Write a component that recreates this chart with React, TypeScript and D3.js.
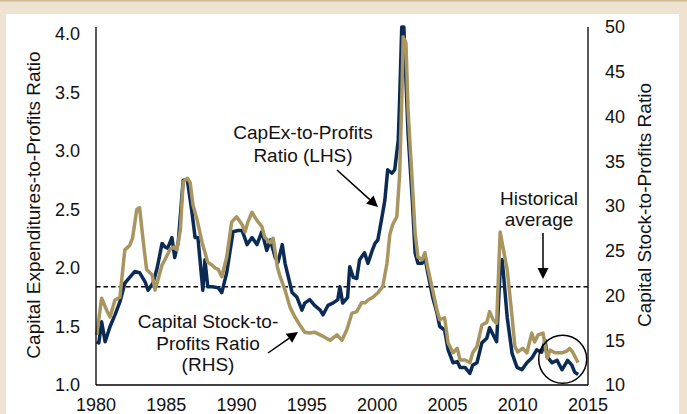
import * as d3 from "d3";
import { useEffect, useRef } from "react";

// CapEx-to-Profits ratio (LHS), [year, ratio]
const capexData: [number, number][] = [
  [1980.05, 1.37], [1980.2, 1.36], [1980.4, 1.54], [1980.65, 1.37], [1981.0, 1.5],
  [1981.35, 1.6], [1981.7, 1.71], [1982.05, 1.87], [1982.4, 1.92], [1982.75, 1.97],
  [1983.1, 1.96], [1983.5, 1.88], [1983.7, 1.81], [1984.05, 1.87], [1984.35, 2.0],
  [1984.7, 2.21], [1984.9, 2.18], [1985.1, 2.17], [1985.4, 2.26], [1985.6, 2.09],
  [1985.85, 2.22], [1986.2, 2.75], [1986.5, 2.75], [1986.8, 2.5], [1987.05, 2.26],
  [1987.25, 2.26], [1987.6, 1.81], [1987.75, 2.07], [1987.95, 1.84], [1988.3, 1.84],
  [1988.7, 1.83], [1988.95, 1.79], [1989.3, 1.96], [1989.75, 2.31], [1990.1, 2.32],
  [1990.4, 2.32], [1990.75, 2.2], [1991.1, 2.26], [1991.45, 2.2], [1991.8, 2.31],
  [1992.15, 2.15], [1992.4, 2.24], [1992.75, 2.09], [1992.95, 2.05], [1993.25, 2.2],
  [1993.45, 2.04], [1993.65, 1.94], [1993.95, 1.79], [1994.3, 1.75], [1994.65, 1.64],
  [1994.85, 1.7], [1995.2, 1.73], [1995.55, 1.68], [1995.95, 1.64], [1996.15, 1.6],
  [1996.5, 1.68], [1996.85, 1.7], [1997.2, 1.73], [1997.35, 1.84], [1997.55, 1.7],
  [1997.9, 1.75], [1998.05, 2.01], [1998.3, 1.92], [1998.55, 1.91], [1998.75, 2.07],
  [1999.1, 2.13], [1999.35, 2.04], [1999.65, 2.15], [1999.85, 2.21], [2000.05, 2.24],
  [2000.35, 2.44], [2000.55, 2.58], [2000.75, 2.84], [2001.05, 2.81], [2001.25, 2.84],
  [2001.5, 3.09], [2001.6, 3.44], [2001.75, 4.06], [2001.9, 4.06], [2002.2, 3.15],
  [2002.5, 2.58], [2002.7, 2.13], [2002.9, 2.04], [2003.2, 2.04], [2003.4, 2.09],
  [2003.6, 1.96], [2003.95, 1.75], [2004.25, 1.62], [2004.45, 1.5], [2004.8, 1.47],
  [2005.05, 1.3], [2005.4, 1.19], [2005.7, 1.2], [2005.9, 1.15], [2006.25, 1.15],
  [2006.6, 1.1], [2006.8, 1.17], [2007.1, 1.19], [2007.45, 1.36], [2007.8, 1.4],
  [2008.0, 1.49], [2008.25, 1.43], [2008.5, 1.37], [2008.75, 1.98], [2008.9, 2.07],
  [2009.25, 1.58], [2009.6, 1.27], [2009.95, 1.15], [2010.3, 1.13], [2010.65, 1.19],
  [2011.0, 1.23], [2011.35, 1.3], [2011.7, 1.28], [2011.95, 1.38], [2012.1, 1.24],
  [2012.45, 1.19], [2012.8, 1.21], [2013.15, 1.13], [2013.55, 1.21], [2013.85, 1.17],
  [2014.05, 1.11], [2014.3, 1.09],
];

// Capital Stock-to-Profits ratio (RHS), [year, ratio]
const stockData: [number, number][] = [
  [1980.05, 15.6], [1980.4, 19.7], [1980.8, 18.2], [1981.0, 17.6], [1981.35, 19.5],
  [1981.7, 19.8], [1982.05, 25.1], [1982.4, 25.6], [1982.6, 26.4], [1982.9, 29.6],
  [1983.1, 29.8], [1983.35, 26.2], [1983.6, 22.9], [1984.0, 22.3], [1984.2, 20.6],
  [1984.4, 21.7], [1984.7, 23.4], [1984.9, 24.0], [1985.25, 25.1], [1985.5, 25.4],
  [1985.75, 25.1], [1986.0, 27.3], [1986.2, 32.7], [1986.5, 33.1], [1986.7, 32.6],
  [1986.9, 30.1], [1987.2, 28.4], [1987.55, 25.9], [1987.75, 24.8], [1987.95, 23.7],
  [1988.25, 23.4], [1988.45, 23.1], [1988.7, 22.9], [1988.95, 22.1], [1989.3, 24.3],
  [1989.65, 28.2], [1990.0, 28.8], [1990.4, 27.9], [1990.6, 27.1], [1990.8, 28.2],
  [1991.1, 29.3], [1991.45, 28.4], [1991.8, 27.7], [1992.0, 26.5], [1992.4, 25.9],
  [1992.6, 26.4], [1992.9, 23.2], [1993.1, 22.1], [1993.45, 20.6], [1993.8, 18.7],
  [1994.15, 17.6], [1994.5, 16.7], [1994.85, 15.9], [1995.2, 15.8], [1995.55, 15.9],
  [1995.95, 15.6], [1996.3, 15.3], [1996.65, 15.0], [1997.15, 15.6], [1997.5, 15.0],
  [1997.85, 16.2], [1998.2, 18.0], [1998.55, 18.2], [1998.9, 19.2], [1999.15, 19.2],
  [1999.35, 19.5], [1999.7, 19.8], [2000.05, 20.3], [2000.4, 21.0], [2000.7, 23.6],
  [2000.9, 26.8], [2001.1, 27.9], [2001.4, 28.8], [2001.6, 33.5], [2001.75, 41.8],
  [2001.85, 48.9], [2002.05, 48.2], [2002.2, 40.7], [2002.5, 32.6], [2002.7, 27.0],
  [2002.9, 24.3], [2003.2, 24.0], [2003.4, 24.8], [2003.6, 23.1], [2003.95, 20.6],
  [2004.25, 18.4], [2004.45, 17.3], [2004.8, 17.5], [2005.05, 14.7], [2005.4, 13.6],
  [2005.7, 14.1], [2005.9, 12.8], [2006.25, 12.8], [2006.6, 12.5], [2006.8, 13.6],
  [2007.1, 14.3], [2007.45, 16.7], [2007.8, 17.0], [2008.0, 18.2], [2008.25, 17.3],
  [2008.5, 16.9], [2008.75, 27.1], [2008.95, 25.4], [2009.25, 22.9], [2009.6, 17.6],
  [2009.8, 14.3], [2010.0, 13.7], [2010.35, 14.1], [2010.65, 13.6], [2011.0, 15.8],
  [2011.2, 14.8], [2011.45, 15.6], [2011.8, 15.8], [2012.1, 13.0], [2012.3, 13.9],
  [2012.65, 13.6], [2013.15, 13.6], [2013.5, 13.8], [2013.7, 14.1], [2013.9, 13.7],
  [2014.2, 12.8], [2014.3, 12.5],
];

const historicalAverage = 1.84;
const leftTicks = [1.0, 1.5, 2.0, 2.5, 3.0, 3.5, 4.0];
const rightTicks = [10, 15, 20, 25, 30, 35, 40, 45, 50];
const yearTicks = [1980, 1985, 1990, 1995, 2000, 2005, 2010, 2015];

const W = 687, H = 414;
const NAVY = "#0b2b55";
const GOLD = "#a8955f";
const FONT = "'Liberation Sans', Arial, sans-serif";

export default function App() {
  const svgRef = useRef<SVGSVGElement | null>(null);

  useEffect(() => {
    const svg = d3.select(svgRef.current);
    svg.selectAll("*").remove();

    const left = 96, right = 588, top = 27, bottom = 385;

    const x = d3.scaleLinear().domain([1980, 2015]).range([left, right]);
    const yL = d3.scaleLinear().domain([1, 4.06]).range([bottom, top]);
    const yR = d3.scaleLinear().domain([10, 50]).range([bottom, top]);

    // frame
    svg.append("rect").attr("width", W).attr("height", H).attr("fill", "#ede3d0");
    svg.append("rect").attr("width", W).attr("height", 1.5).attr("fill", "#cdb993");
    svg.append("rect").attr("x", 6).attr("y", 14).attr("width", 673).attr("height", H - 14).attr("fill", "#fff");

    // historical average
    svg.append("line")
      .attr("x1", left).attr("x2", right)
      .attr("y1", yL(historicalAverage)).attr("y2", yL(historicalAverage))
      .attr("stroke", "#000").attr("stroke-width", 1.4).attr("stroke-dasharray", "4.5,3");

    const lineL = d3.line<[number, number]>().x(d => x(d[0])).y(d => yL(d[1]));
    const lineR = d3.line<[number, number]>().x(d => x(d[0])).y(d => yR(d[1]));

    svg.append("path").datum(capexData).attr("d", lineL)
      .attr("fill", "none").attr("stroke", NAVY).attr("stroke-width", 3.5).attr("stroke-linejoin", "round");
    svg.append("path").datum(stockData).attr("d", lineR)
      .attr("fill", "none").attr("stroke", GOLD).attr("stroke-width", 3.5).attr("stroke-linejoin", "round");

    // axes lines
    const axisG = svg.append("g").attr("stroke", "#000").attr("stroke-width", 1.3);
    axisG.append("line").attr("x1", left).attr("x2", left).attr("y1", top).attr("y2", bottom);
    axisG.append("line").attr("x1", right).attr("x2", right).attr("y1", top).attr("y2", bottom);
    axisG.append("line").attr("x1", left).attr("x2", right).attr("y1", bottom).attr("y2", bottom);

    const txt = svg.append("g").attr("font-family", FONT).attr("fill", "#111");

    txt.selectAll(".lt").data(leftTicks).join("text")
      .attr("x", left - 16).attr("y", d => yL(d)).attr("dy", "0.36em")
      .attr("text-anchor", "end").attr("font-size", 18).text(d => d.toFixed(1));
    txt.selectAll(".rt").data(rightTicks).join("text")
      .attr("x", right + 17).attr("y", d => yR(d)).attr("dy", "0.36em")
      .attr("text-anchor", "start").attr("font-size", 18).text(d => d);
    txt.selectAll(".xt").data(yearTicks).join("text")
      .attr("x", d => x(d)).attr("y", 411)
      .attr("text-anchor", "middle").attr("font-size", 18).text(d => d);

    txt.append("text").attr("transform", "translate(40,205) rotate(-90)")
      .attr("text-anchor", "middle").attr("font-size", 19).text("Capital Expenditures-to-Profits Ratio");
    txt.append("text").attr("transform", "translate(651,205) rotate(-90)")
      .attr("text-anchor", "middle").attr("font-size", 19).text("Capital Stock-to-Profits Ratio");

    const label = (lines: string[], cx: number, y0: number, dy: number) => {
      lines.forEach((s, i) => {
        txt.append("text").attr("x", cx).attr("y", y0 + i * dy)
          .attr("text-anchor", "middle").attr("font-size", 19).text(s);
      });
    };
    label(["CapEx-to-Profits", "Ratio (LHS)"], 303, 139, 23);
    label(["Capital Stock-to-", "Profits Ratio", "(RHS)"], 208, 328, 21.5);
    label(["Historical", "average"], 539, 205, 21);

    const arrow = (x1: number, y1: number, x2: number, y2: number) => {
      const a = Math.atan2(y2 - y1, x2 - x1);
      const L = 11, Wd = 5.5;
      const bx = x2 - L * Math.cos(a), by = y2 - L * Math.sin(a);
      svg.append("line").attr("x1", x1).attr("y1", y1).attr("x2", bx).attr("y2", by)
        .attr("stroke", "#000").attr("stroke-width", 1.5);
      const p1 = [bx + Wd * Math.sin(a), by - Wd * Math.cos(a)];
      const p2 = [bx - Wd * Math.sin(a), by + Wd * Math.cos(a)];
      svg.append("path").attr("d", `M${x2},${y2}L${p1[0]},${p1[1]}L${p2[0]},${p2[1]}Z`).attr("fill", "#000");
    };
    arrow(337, 170, 378, 207);
    arrow(268, 353, 298, 332);
    arrow(543, 233, 543, 279);

    svg.append("circle").attr("cx", x(2013.2)).attr("cy", yL(1.22)).attr("r", 24)
      .attr("fill", "none").attr("stroke", "#000").attr("stroke-width", 1.5);
  }, []);

  return (
    <div style={{ position: "absolute", left: 0, top: 0 }}>
      <svg ref={svgRef} width={W} height={H} style={{ display: "block" }} />
    </div>
  );
}
